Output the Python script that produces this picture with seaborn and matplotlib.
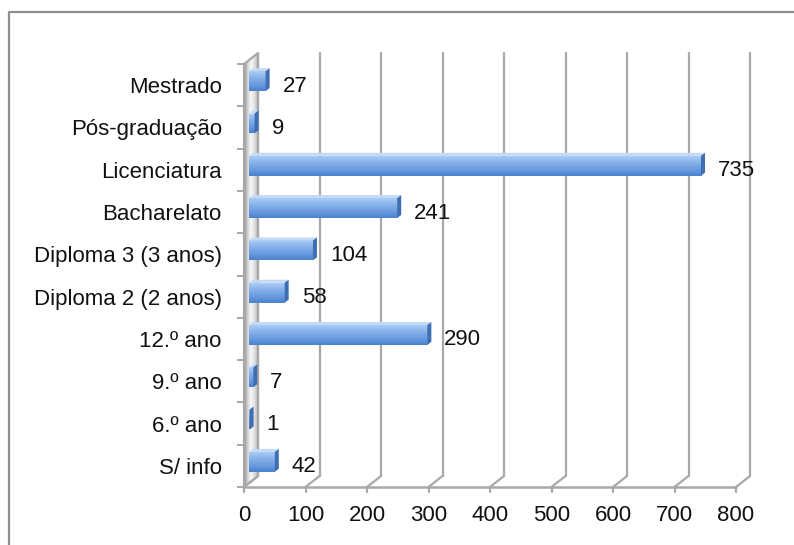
import numpy as np
import matplotlib
matplotlib.use("Agg")
import matplotlib.pyplot as plt
import seaborn as sns
import pandas as pd
from matplotlib.transforms import Affine2D, IdentityTransform
from matplotlib.colors import LinearSegmentedColormap
from matplotlib.patches import Polygon
from matplotlib.lines import Line2D

# Habilitações literárias: número de pessoas por nível
categories = ["Mestrado", "Pós-graduação", "Licenciatura", "Bacharelato",
              "Diploma 3 (3 anos)", "Diploma 2 (2 anos)", "12.º ano",
              "9.º ano", "6.º ano", "S/ info"]
counts = [27, 9, 735, 241, 104, 58, 290, 7, 1, 42]
x_ticks = [0, 100, 200, 300, 400, 500, 600, 700, 800]

sns.set_style("white")
plt.rcParams["font.family"] = ["Liberation Sans", "DejaVu Sans"]
FS = 16

W, H = 794, 545
fig = plt.figure(figsize=(W / 100, H / 100), dpi=100)
ax = fig.add_axes([244 / W, 1 - 487 / H, (736 - 244) / W, (487 - 64) / H])

df = pd.DataFrame({"nivel": categories, "n": counts})
sns.barplot(data=df, x="n", y="nivel", orient="h", color="#6f9fe0",
            saturation=1, width=0.47, ax=ax, zorder=3)
ax.set_xlim(0, 800)
ax.set_ylim(len(categories) - 0.5, -0.5)
ax.set_xlabel("")
ax.set_ylabel("")
for s in ax.spines.values():
    s.set_visible(False)

GRID = "#a8a8a8"
DEPTH = (14, 11)      # offset of the back plane, in pixels
BAR_SHIFT = (5, 4)    # front face of the bars
BAR_DEPTH = (4, 3)    # thickness of the bars' top/end faces

T = ax.transData
ident = IdentityTransform()
ybot, ytop = len(categories) - 0.5, -0.5


def disp(x, y):
    return T.transform((x, y))


# back-wall vertical gridlines and floor slants
for xv in x_ticks:
    fx, fyb = disp(xv, ybot)
    _, fyt = disp(xv, ytop)
    bx = fx + DEPTH[0]
    ax.add_line(Line2D([bx, bx], [fyb + DEPTH[1], fyt + DEPTH[1]],
                       transform=ident, color=GRID, lw=1.6,
                       clip_on=False, zorder=0.5))
    ax.add_line(Line2D([fx, bx], [fyb, fyb + DEPTH[1]],
                       transform=ident, color=GRID, lw=1.6,
                       clip_on=False, zorder=0.6))
    ax.add_line(Line2D([fx, fx], [fyb, fyb - 5],
                       transform=ident, color=GRID, lw=1.6,
                       clip_on=False, zorder=0.6))

# front floor edge
x0d, y0d = disp(0, ybot)
x8d, _ = disp(800, ybot)
ax.add_line(Line2D([x0d, x8d], [y0d, y0d], transform=ident, color=GRID,
                   lw=1.8, clip_on=False, zorder=0.7))

# left side wall with a silver gradient
wx, wyb = disp(0, ybot)
_, wyt = disp(0, ytop)
wall_pts = [(wx, wyb), (wx, wyt), (wx + DEPTH[0], wyt + DEPTH[1]),
            (wx + DEPTH[0], wyb + DEPTH[1])]
wall = Polygon(wall_pts, closed=True, transform=ident, facecolor="none",
               edgecolor=GRID, lw=1.6, clip_on=False, zorder=1.2)
ax.add_patch(wall)
wall_cmap = LinearSegmentedColormap.from_list(
    "wall", ["#8e8e8e", "#d2d2d2", "#f7f7f7", "#e2e2e2", "#b4b4b4"])
wim = ax.imshow(np.linspace(0, 1, 64).reshape(1, -1), cmap=wall_cmap,
                extent=(wx, wx + DEPTH[0], wyb, wyt + DEPTH[1]),
                transform=ident, aspect="auto", zorder=1.1,
                interpolation="bilinear")
wim.set_clip_box(fig.bbox)
wim.set_clip_path(wall)

# bars: shifted front face with vertical gradient, plus top and end faces
bar_cmap = LinearSegmentedColormap.from_list(
    "bar", ["#aacbf3", "#86b2ea", "#6a9be0", "#4b82cc"])
shift = T + Affine2D().translate(*BAR_SHIFT)
for patch in list(ax.patches):
    if patch is wall:
        continue
    x0 = patch.get_x()
    w = patch.get_width()
    y0 = patch.get_y()
    h = patch.get_height()
    patch.set_transform(shift)
    patch.set_edgecolor("none")
    patch.set_clip_on(False)
    im = ax.imshow(np.linspace(0, 1, 64).reshape(-1, 1), cmap=bar_cmap,
                   extent=(x0, x0 + w, y0 + h, y0), transform=shift,
                   aspect="auto", zorder=3.1, interpolation="bilinear")
    im.set_clip_box(fig.bbox)
    im.set_clip_path(patch)
    # faces in display coordinates
    lx, ty = shift.transform((x0, y0))
    rx, by = shift.transform((x0 + w, y0 + h))
    dx, dy = BAR_DEPTH
    top = Polygon([(lx, ty), (rx, ty), (rx + dx, ty + dy), (lx + dx, ty + dy)],
                  transform=ident, facecolor="#c3daf6", edgecolor="none",
                  clip_on=False, zorder=3.2)
    end = Polygon([(rx, by), (rx, ty), (rx + dx, ty + dy), (rx + dx, by + dy)],
                  transform=ident, facecolor="#3f6fb2", edgecolor="none",
                  clip_on=False, zorder=3.2)
    ax.add_patch(top)
    ax.add_patch(end)

ax.set_xlim(0, 800)
ax.set_ylim(ybot, ytop)

# value labels
for i, v in enumerate(counts):
    ax.annotate(str(v), xy=(v, i), xytext=(22, -1), textcoords="offset pixels",
                ha="left", va="center", fontsize=FS, color="#111111",
                zorder=5, annotation_clip=False)

# axes ticks
ax.set_xticks(x_ticks)
ax.set_xticklabels([str(t) for t in x_ticks], fontsize=FS, color="#111111")
ax.tick_params(axis="x", length=0, pad=13)
ax.set_yticks(range(len(categories)))
ax.set_yticklabels(categories, fontsize=FS, color="#111111")
ax.set_yticks(np.arange(-0.5, len(categories)), minor=True)
ax.tick_params(axis="y", which="major", length=0, pad=16, left=True)
ax.tick_params(axis="y", which="minor", length=5, width=1.4, color=GRID,
               left=True)
ax.grid(False)

# chart frame
fig.add_artist(Line2D([9 / W, 9 / W, 1.0], [0.0, 1 - 12 / H, 1 - 12 / H],
                      transform=fig.transFigure, color="#8f8f8f", lw=1.6))

fig.savefig("out.png", dpi=100)
